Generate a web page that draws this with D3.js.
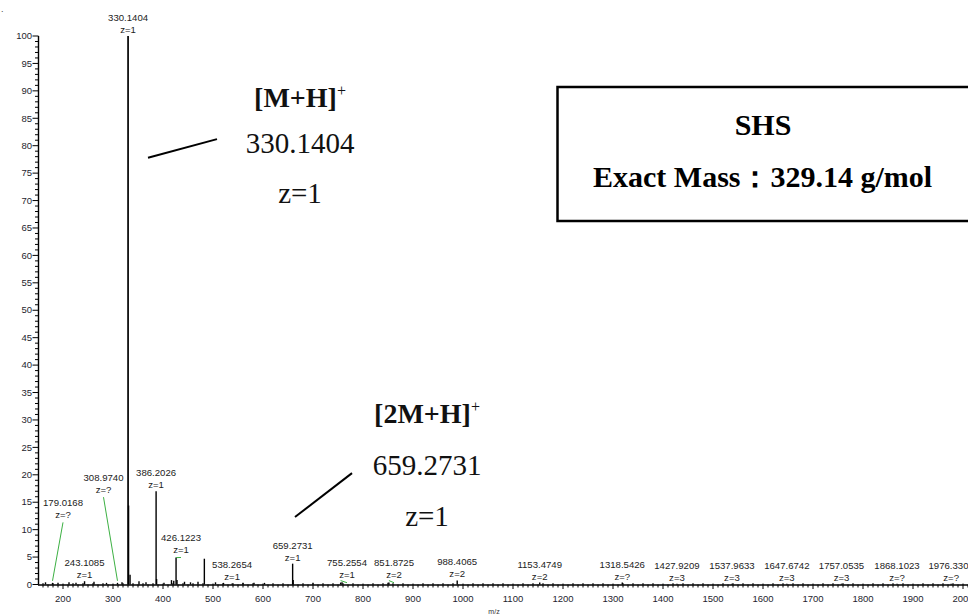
<!DOCTYPE html>
<html>
<head>
<meta charset="utf-8">
<script src="https://cdn.jsdelivr.net/npm/d3@7/dist/d3.min.js"></script>
<style>
  html, body { margin: 0; padding: 0; background: #fff; }
  svg { display: block; }
</style>
</head>
<body>
<svg id="chart" width="968" height="615"></svg>
<script>
// ---- Labelled centroid peaks (m/z, relative abundance %, charge) ----
const labeledMz = [179.0168, 243.1085, 308.9740, 330.1404, 386.2026, 426.1223, 538.2654,
  659.2731, 755.2554, 851.8725, 988.4065, 1153.4749, 1318.5426, 1427.9209, 1537.9633,
  1647.6742, 1757.0535, 1868.1023, 1976.3301];
const labeledIntensity = [0.3, 0.6, 0.3, 100, 17.0, 4.9, 0.2, 3.8, 0.35, 0.35, 0.75, 0.35,
  0.35, 0.15, 0.15, 0.15, 0.15, 0.15, 0.15];
const labeledCharge = ["?", "1", "?", "1", "1", "1", "1", "1", "1", "2", "2", "2", "?",
  "3", "3", "3", "3", "?", "?"];
// label moved off its peak (m/z of label centre, abundance of label base); null = on the peak
const labelMovedMz = [200, null, 281, null, null, 436, null, null, 768, 862, null, null,
  null, null, null, null, null, null, null];
const labelMovedIntensity = [11.6, null, 16.2, null, null, 5.2, null, null, 0.6, 0.6, null,
  null, null, null, null, null, null, null, null];

// ---- Unlabelled peaks ----
const otherMz = [331.1437, 482.7, 334.1, 387.2, 417.0, 421.5, 428.0, 443.0, 455.0, 470.0,
  165.0, 190.0, 212.0, 226.0, 262.0, 287.0, 318.0, 352.0, 366.0, 402.0, 505.0, 521.0,
  560.0, 582.0, 603.0, 660.3, 700.0, 758.0, 850.0];
const otherIntensity = [14.4, 4.7, 1.8, 1.0, 0.8, 0.7, 0.8, 0.5, 0.4, 0.5,
  0.4, 0.3, 0.4, 0.3, 0.5, 0.3, 0.4, 0.6, 0.4, 0.3, 0.4, 0.3,
  0.3, 0.3, 0.3, 0.8, 0.3, 0.4, 0.3];

// ---- Axes ----
const xDomain = [150, 2010];
const yDomain = [0, 100];
const xTickValues = d3.range(200, 2001, 100);
const yTickValues = d3.range(0, 101, 5);

// ---- Annotation text ----
const ionMain = { label: "[M+H]", mz: "330.1404", z: "z=1" };
const ionDimer = { label: "[2M+H]", mz: "659.2731", z: "z=1" };
const compoundName = "SHS";
const compoundMass = "Exact Mass\uFF1A329.14 g/mol";

const svg = d3.select("#chart");
const x = d3.scaleLinear().domain(xDomain).range([38, 968]);
const y = d3.scaleLinear().domain(yDomain).range([584.5, 36]);

const sans = "'Liberation Sans', Arial, sans-serif";
const serif = "'Liberation Serif', 'Times New Roman', serif";

// stray dot in the top-left corner
svg.append("text").attr("x", 1).attr("y", 12).attr("font-family", sans)
  .attr("font-size", 9).attr("fill", "#444").text(".");

// y axis
const yAxis = svg.append("g");
yAxis.append("line").attr("x1", 38.5).attr("x2", 38.5)
  .attr("y1", y(0)).attr("y2", y(100)).attr("stroke", "#000").attr("stroke-width", 1.4);
yAxis.selectAll("line.minor").data(d3.range(0, 101, 1)).join("line")
  .attr("class", "minor")
  .attr("x1", d => d % 5 === 0 ? 32.5 : 35).attr("x2", 38.5)
  .attr("y1", d => y(d)).attr("y2", d => y(d))
  .attr("stroke", "#000").attr("stroke-width", 1);
yAxis.selectAll("text").data(yTickValues).join("text")
  .attr("x", 32).attr("y", d => y(d)).attr("dy", "0.34em")
  .attr("text-anchor", "end").attr("font-family", sans).attr("font-size", 9.5)
  .attr("fill", "#1e1e2e").text(d => d);

// x axis
const xAxis = svg.append("g");
xAxis.append("line").attr("x1", 38).attr("x2", 968)
  .attr("y1", y(0) + 0.5).attr("y2", y(0) + 0.5).attr("stroke", "#000").attr("stroke-width", 1.4);
xAxis.selectAll("line.tick").data(d3.range(160, 2011, 10)).join("line")
  .attr("class", "tick")
  .attr("x1", d => x(d)).attr("x2", d => x(d))
  .attr("y1", d => d % 100 === 0 ? y(0) - 1 : (d % 20 === 0 ? y(0) - 1.5 : y(0)))
  .attr("y2", d => d % 100 === 0 ? y(0) + 4.5 : y(0) + 3)
  .attr("stroke", "#000").attr("stroke-width", 1);
xAxis.selectAll("text").data(xTickValues).join("text")
  .attr("x", d => x(d)).attr("y", 601.5)
  .attr("text-anchor", "middle").attr("font-family", sans).attr("font-size", 9.5)
  .attr("fill", "#1e1e2e").text(d => d);
svg.append("text").attr("x", 494).attr("y", 614).attr("text-anchor", "middle")
  .attr("font-family", sans).attr("font-size", 7).attr("fill", "#333").text("m/z");

// stick spectrum
const peaks = otherMz.map((m, i) => ({ mz: m, v: otherIntensity[i] }))
  .concat(labeledMz.map((m, i) => ({ mz: m, v: labeledIntensity[i] })));
svg.append("g").selectAll("line").data(peaks).join("line")
  .attr("x1", d => x(d.mz)).attr("x2", d => x(d.mz))
  .attr("y1", y(0)).attr("y2", d => y(d.v))
  .attr("stroke", "#000").attr("stroke-width", d => d.v > 50 ? 1.7 : 1.4);

// peak labels
const labels = labeledMz.map((m, i) => ({
  mz: m, v: labeledIntensity[i], z: labeledCharge[i],
  lx: labelMovedMz[i] === null ? m : labelMovedMz[i],
  lv: labelMovedIntensity[i] === null ? labeledIntensity[i] : labelMovedIntensity[i],
  moved: labelMovedMz[i] !== null
}));
const lg = svg.append("g");
lg.selectAll("line").data(labels.filter(d => d.moved)).join("line")
  .attr("x1", d => x(d.mz)).attr("y1", d => y(d.v) + (d.v < 1 ? -2 : 0))
  .attr("x2", d => x(d.lx)).attr("y2", d => y(d.lv) + 1.5)
  .attr("stroke", "#3cb043").attr("stroke-width", 1);
lg.selectAll("text.mz").data(labels).join("text").attr("class", "mz")
  .attr("x", d => x(d.lx)).attr("y", d => y(d.lv) - 15)
  .attr("text-anchor", "middle").attr("font-family", sans).attr("font-size", 9.6)
  .attr("fill", "#222").text(d => d.mz.toFixed(4));
lg.selectAll("text.z").data(labels).join("text").attr("class", "z")
  .attr("x", d => x(d.lx)).attr("y", d => y(d.lv) - 3)
  .attr("text-anchor", "middle").attr("font-family", sans).attr("font-size", 9.6)
  .attr("fill", "#222").text(d => "z=" + d.z);

// ion annotations
function ionNote(ion, cx, yLabel, yMz, yZ, from, to) {
  const g = svg.append("g");
  const t = g.append("text").attr("x", x(cx)).attr("y", y(yLabel)).attr("text-anchor", "middle")
    .attr("font-family", serif).attr("font-size", 28).attr("font-weight", "bold").attr("fill", "#111");
  t.append("tspan").text(ion.label);
  t.append("tspan").attr("font-size", 16).attr("font-weight", "normal")
    .attr("dy", -11).text("+");
  g.append("text").attr("x", x(cx)).attr("y", y(yMz)).attr("text-anchor", "middle")
    .attr("font-family", serif).attr("font-size", 29).attr("fill", "#111").text(ion.mz);
  g.append("text").attr("x", x(cx)).attr("y", y(yZ)).attr("text-anchor", "middle")
    .attr("font-family", serif).attr("font-size", 29).attr("fill", "#111").text(ion.z);
  g.append("line").attr("x1", x(from[0])).attr("y1", y(from[1]))
    .attr("x2", x(to[0])).attr("y2", y(to[1])).attr("stroke", "#000").attr("stroke-width", 2);
}
ionNote(ionMain, 674, 87.1, 78.7, 69.6, [370, 77.8], [508, 81.2]);
ionNote(ionDimer, 928, 29.5, 20.0, 10.6, [664, 12.3], [778, 20.3]);

// compound box
const box = svg.append("g");
box.append("rect").attr("x", 557.5).attr("y", 87).attr("width", 430).attr("height", 134)
  .attr("fill", "#fff").attr("stroke", "#000").attr("stroke-width", 2.5);
box.append("text").attr("x", 763).attr("y", 135).attr("text-anchor", "middle")
  .attr("font-family", serif).attr("font-size", 30).attr("font-weight", "bold")
  .attr("fill", "#000").text(compoundName);
box.append("text").attr("x", 593).attr("y", 187)
  .attr("font-family", serif).attr("font-size", 30).attr("font-weight", "bold")
  .attr("fill", "#000").text(compoundMass);
</script>
</body>
</html>
